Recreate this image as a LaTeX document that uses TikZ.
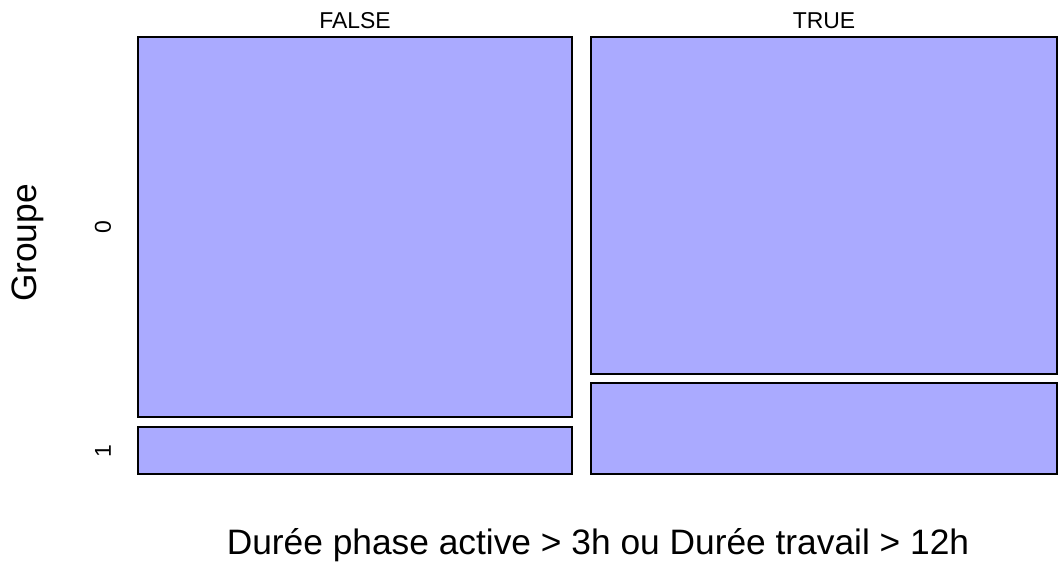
\documentclass[tikz,border=0pt]{standalone}
\usepackage{fontspec}
\setmainfont{Liberation Sans}
\usetikzlibrary{positioning}
\definecolor{tilefill}{HTML}{AAAAFF}
\tikzset{tile/.style={draw=black,line width=1.4pt,fill=tilefill}}
\tikzset{strip/.style={font=\fontsize{17.2}{19}\selectfont}}
\tikzset{axlabel/.style={font=\fontsize{26.5}{30}\selectfont}}

\begin{document}
\begin{tikzpicture}[x=0.75pt,y=-0.75pt]
\useasboundingbox (0,0) rectangle (1060,570);
% FALSE column
\draw[tile] (138,37) rectangle (572,417);
\draw[tile] (138,427) rectangle (572,474);
% TRUE column
\draw[tile] (591,37) rectangle (1057,374);
\draw[tile] (591,383) rectangle (1057,474);

\node[strip] (false) at (355,21) {FALSE};
\node[strip] (true) at (824,21) {TRUE};
\foreach \g/\y in {0/227,1/451}
	\node[strip,rotate=90] (g\g) at (103,\y) {\g};

\node[axlabel,rotate=90] (ylab) at (28,243) {Groupe};
\node[axlabel] (xlab) at (598,545) {Durée phase active > 3h ou Durée travail > 12h};
\end{tikzpicture}
\end{document}
